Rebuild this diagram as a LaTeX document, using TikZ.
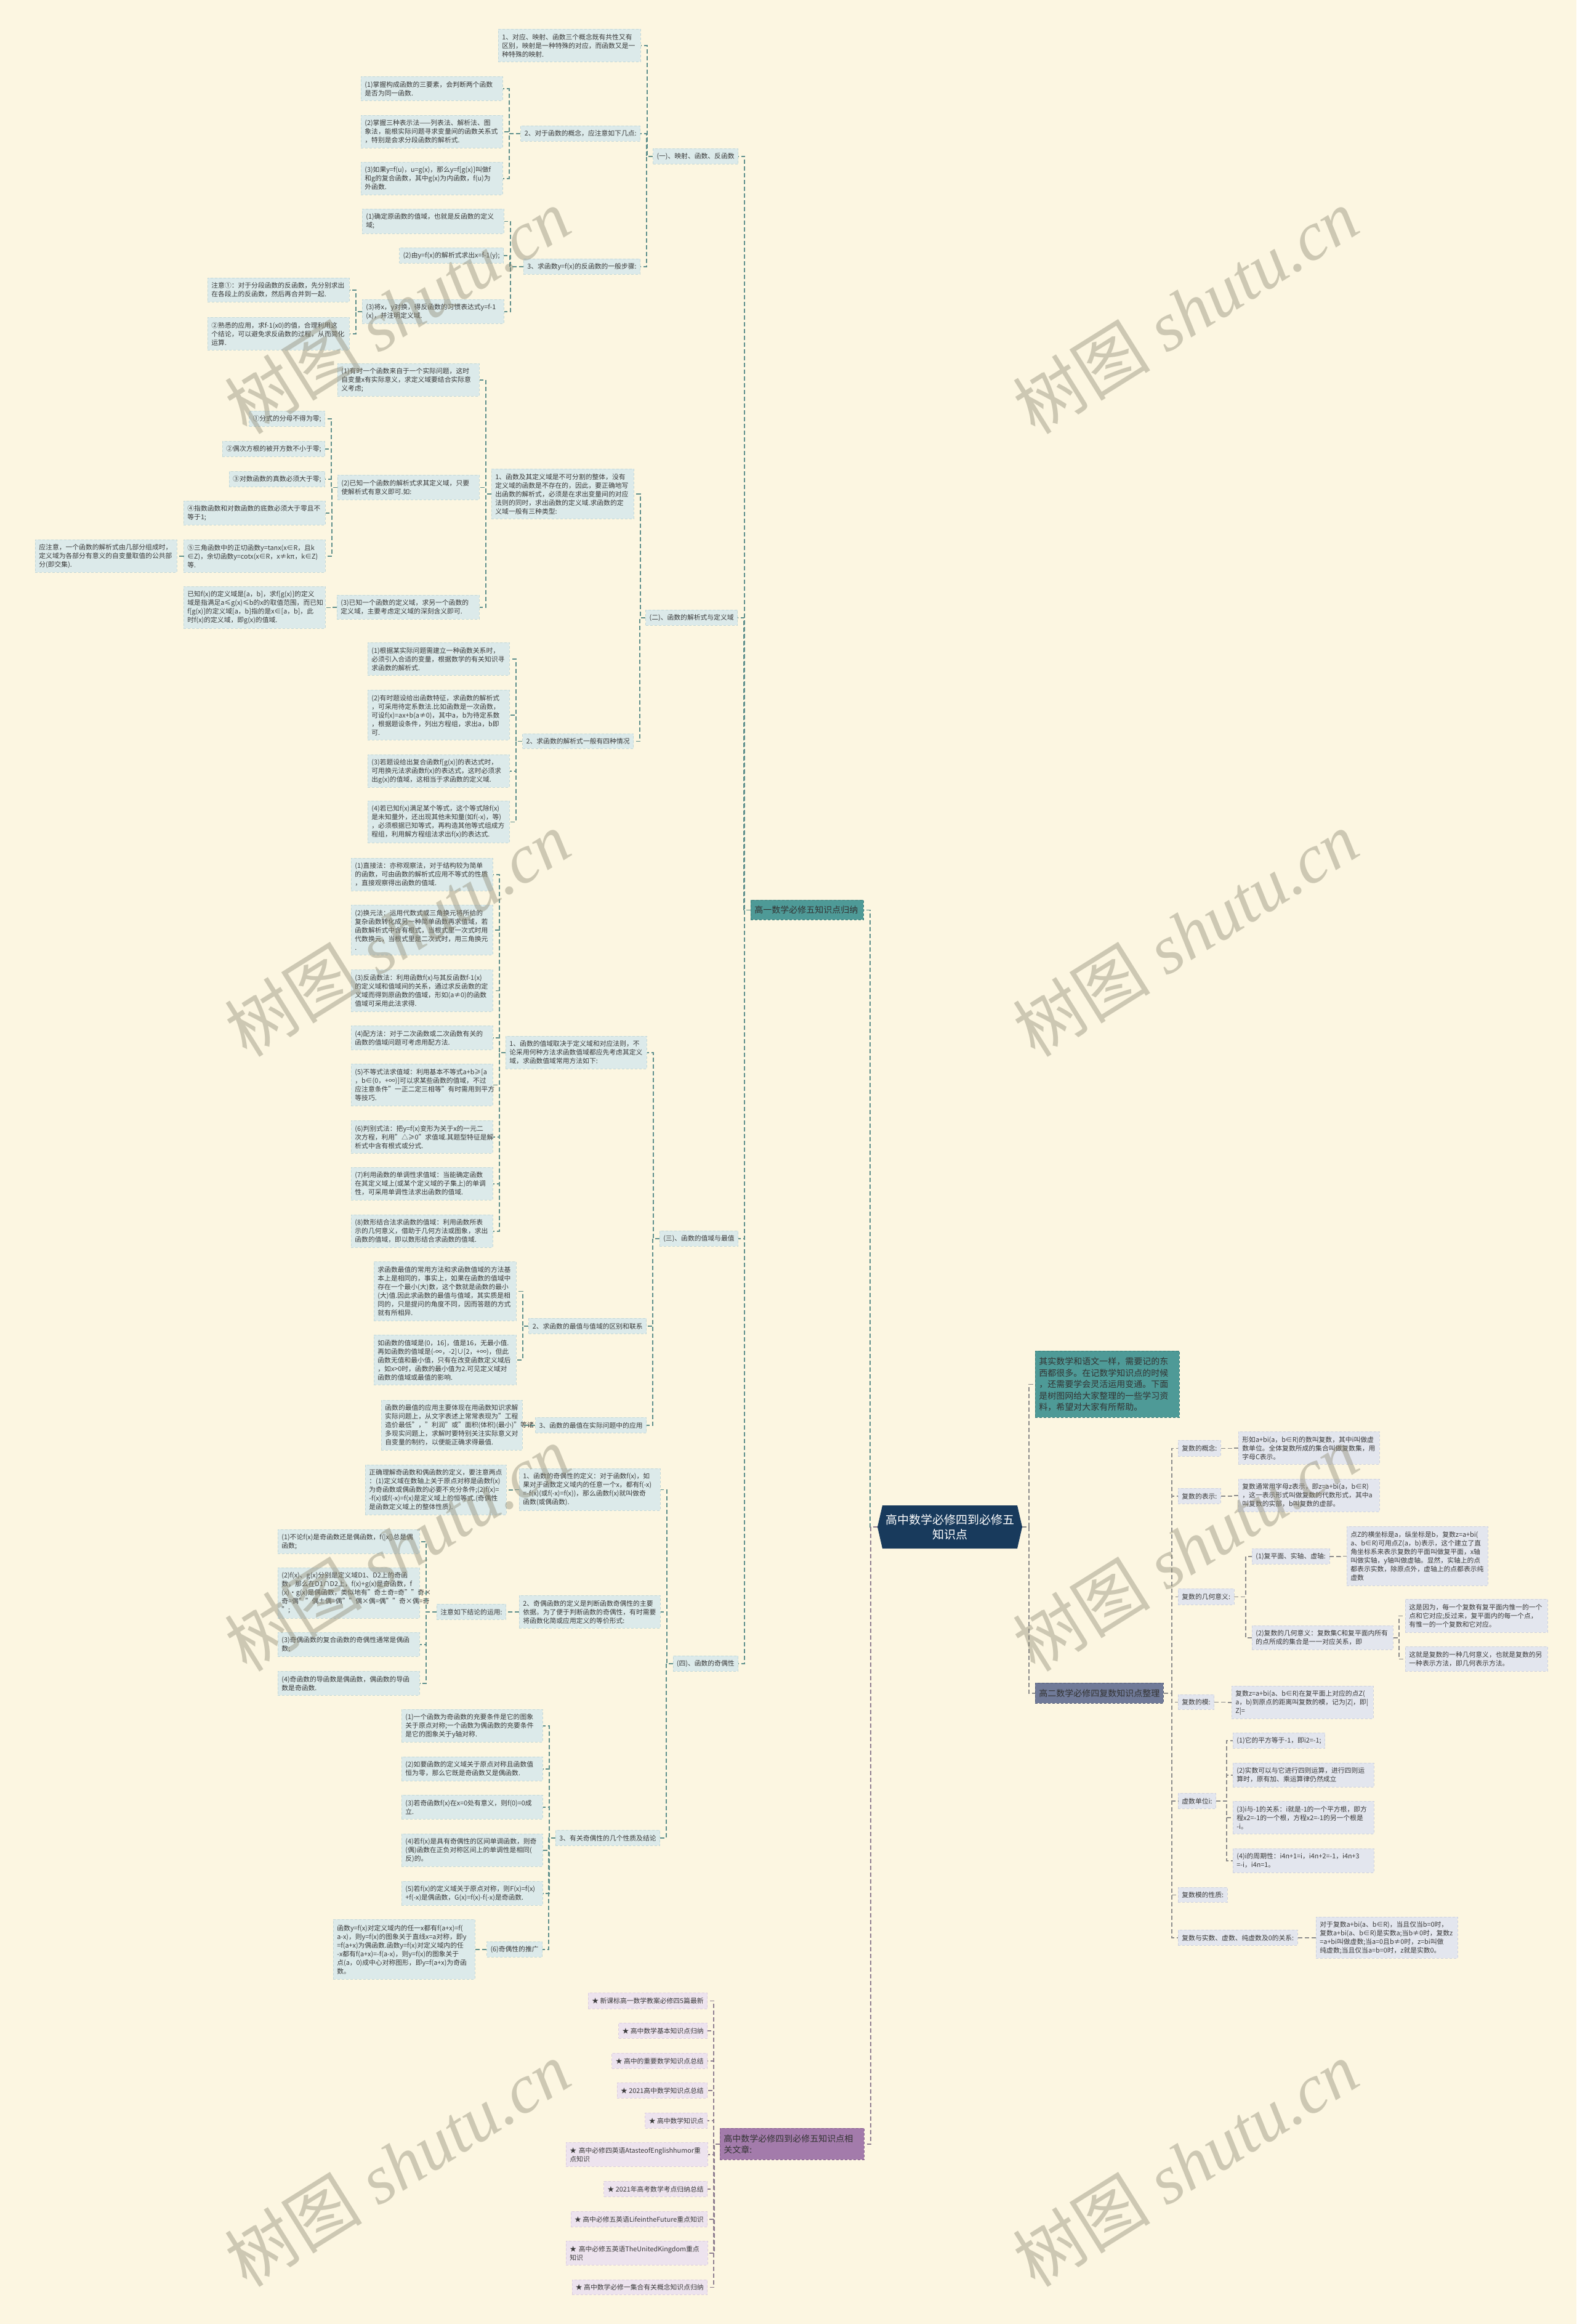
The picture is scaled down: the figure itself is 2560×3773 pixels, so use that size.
\documentclass[tikz,border=0pt]{standalone}
\usepackage{fontspec}
\setmainfont{Noto Sans CJK SC}
\newfontfamily\wmfont{Liberation Serif}
\definecolor{bgc}{HTML}{FCF6E1}
\definecolor{lfB}{HTML}{DCEAEA}
\definecolor{lfBd}{HTML}{C2D8D8}
\definecolor{lfG}{HTML}{E3E6EE}
\definecolor{lfGd}{HTML}{CDD1DD}
\definecolor{lfP}{HTML}{EDE3EE}
\definecolor{lfPd}{HTML}{DCCDDE}
\definecolor{tealA}{HTML}{4E9A97}
\definecolor{tealD}{HTML}{3C7C79}
\definecolor{slateA}{HTML}{707A98}
\definecolor{slateD}{HTML}{565F7A}
\definecolor{purpA}{HTML}{A37BAB}
\definecolor{purpD}{HTML}{86608E}
\definecolor{navyA}{HTML}{183A5C}
\definecolor{lnT}{HTML}{5E8F8C}
\definecolor{lnG}{HTML}{8C8C8C}
\definecolor{lnP}{HTML}{8E7E90}
\definecolor{txt}{HTML}{3A3A3A}
\definecolor{wmc}{HTML}{8E8A74}
\tikzset{
  base/.style={inner xsep=6pt, inner ysep=0pt, align=left, font=\fontsize{10.8pt}{14pt}\selectfont, text=txt, dash pattern=on 4pt off 3pt, line width=0.8pt},
  lb/.style={base, fill=lfB, draw=lfBd},
  lg/.style={base, fill=lfG, draw=lfGd},
  lp/.style={base, fill=lfP, draw=lfPd},
  tb/.style={base, fill=tealA, draw=tealD, text=black!80, font=\fontsize{14pt}{18.6pt}\selectfont},
  sb/.style={base, fill=slateA, draw=slateD, text=black!80, font=\fontsize{14pt}{18.6pt}\selectfont},
  pb/.style={base, fill=purpA, draw=purpD, text=black!80, font=\fontsize{14pt}{18.3pt}\selectfont},
  cT/.style={draw=lnT, line width=1.4pt, dash pattern=on 7pt off 4pt},
  cG/.style={draw=lnG, line width=1.4pt, dash pattern=on 7pt off 4pt},
  cP/.style={draw=lnP, line width=1.4pt, dash pattern=on 7pt off 4pt},
  wm/.style={text=wmc, opacity=0.42, rotate=32, inner sep=0pt, font=\fontsize{112pt}{112pt}\selectfont}
}
\newcommand\NdM[7]{\node[#1,text width=#5pt,minimum height=#6pt,anchor=north west] (#2) at (#3,#4) {#7};}
\newcommand\NdL[6]{\node[#1,minimum height=#5pt,anchor=north east] (#2) at (#3,#4) {#6};}
\newcommand\NdR[6]{\node[#1,minimum height=#5pt,anchor=north west] (#2) at (#3,#4) {#6};}
\newcommand\CnL[3]{\draw[#1] (#2.west) -| ([xshift=10pt]#3.east) -- (#3.east);}
\newcommand\CnR[3]{\draw[#1] (#2.east) -| ([xshift=-10pt]#3.west) -- (#3.west);}
\begin{document}
\begin{tikzpicture}[x=1pt,y=-1pt]
\fill[bgc] (0,0) rectangle (2560,3773);
\useasboundingbox (0,0) rectangle (2560,3773);

% ---------- root ----------
\fill[navyA] (1425,2479) -- (1433,2444) -- (1652,2444) -- (1660,2479) -- (1652,2514) -- (1433,2514) -- cycle;
\node[minimum width=235pt, minimum height=70pt, inner sep=0pt, align=center, text=white, font=\fontsize{19pt}{24pt}\selectfont] (root) at (1542.5,2479) {高中数学必修四到必修五\\知识点};

% ---------- left main branch ----------
\NdM{tb}{g1}{1219}{1461}{171}{32}{高一数学必修五知识点归纳}

\NdL{lb}{n1}{1199}{241}{25}{(一)、映射、函数、反函数}
\NdM{lb}{a1}{809}{47}{219}{53}{1、对应、映射、函数三个概念既有共性又有\\区别，映射是一种特殊的对应，而函数又是一\\种特殊的映射.}
\NdL{lb}{a2}{1040}{204}{25}{2、对于函数的概念，应注意如下几点:}
\NdM{lb}{a21}{586}{124}{218}{39}{(1)掌握构成函数的三要素，会判断两个函数\\是否为同一函数.}
\NdM{lb}{a22}{586}{187}{218}{53}{(2)掌握三种表示法——列表法、解析法、图\\象法，能根实际问题寻求变量间的函数关系式\\，特别是会求分段函数的解析式.}
\NdM{lb}{a23}{586}{263}{218}{53}{(3)如果y=f(u)，u=g(x)，那么y=f[g(x)]叫做f\\和g的复合函数，其中g(x)为内函数，f(u)为\\外函数.}
\NdL{lb}{a3}{1040}{420}{25}{3、求函数y=f(x)的反函数的一般步骤:}
\NdM{lb}{a31}{588}{339}{218}{40}{(1)确定原函数的值域，也就是反函数的定义\\域;}
\NdL{lb}{a32}{818}{402}{25}{(2)由y=f(x)的解析式求出x=f-1(y);}
\NdM{lb}{a33}{588}{486}{218}{39}{(3)将x，y对换，得反函数的习惯表达式y=f-1\\(x)，并注明定义域.}
\NdM{lb}{a331}{337}{451}{218}{39}{注意①：对于分段函数的反函数，先分别求出\\在各段上的反函数，然后再合并到一起.}
\NdM{lb}{a332}{337}{515}{218}{53}{②熟悉的应用，求f-1(x0)的值，合理利用这\\个结论，可以避免求反函数的过程，从而简化\\运算.}

\NdL{lb}{n2}{1198}{990}{25}{(二)、函数的解析式与定义域}
\NdM{lb}{b1}{798}{761}{219}{81}{1、函数及其定义域是不可分割的整体，没有\\定义域的函数是不存在的，因此，要正确地写\\出函数的解析式，必须是在求出变量间的对应\\法则的同时，求出函数的定义域.求函数的定\\义域一般有三种类型:}
\NdM{lb}{b11}{548}{590}{218}{53}{(1)有时一个函数来自于一个实际问题，这时\\自变量x有实际意义，求定义域要结合实际意\\义考虑;}
\NdM{lb}{b12}{548}{771}{218}{40}{(2)已知一个函数的解析式求其定义域，只要\\使解析式有意义即可.如:}
\NdL{lb}{b121}{528}{667}{25}{①分式的分母不得为零;}
\NdL{lb}{b122}{528}{716}{25}{②偶次方根的被开方数不小于零;}
\NdL{lb}{b123}{528}{765}{25}{③对数函数的真数必须大于零;}
\NdM{lb}{b124}{298}{813}{218}{39}{④指数函数和对数函数的底数必须大于零且不\\等于1;}
\NdM{lb}{b125}{298}{876}{218}{53}{⑤三角函数中的正切函数y=tanx(x∈R，且k\\∈Z)，余切函数y=cotx(x∈R，x≠kπ，k∈Z)\\等.}
\NdM{lb}{b1251}{57}{876}{218}{53}{应注意，一个函数的解析式由几部分组成时，\\定义域为各部分有意义的自变量取值的公共部\\分(即交集).}
\NdM{lb}{b13}{547}{966}{219}{39}{(3)已知一个函数的定义域，求另一个函数的\\定义域，主要考虑定义域的深刻含义即可.}
\NdM{lb}{b131}{298}{952}{218}{68}{已知f(x)的定义域是[a，b]，求f[g(x)]的定义\\域是指满足a≤g(x)≤b的x的取值范围，而已知\\f[g(x)]的定义域[a，b]指的是x∈[a，b]，此\\时f(x)的定义域，即g(x)的值域.}
\NdL{lb}{b2}{1029}{1191}{24}{2、求函数的解析式一般有四种情况}
\NdM{lb}{b21}{597}{1043}{218}{53}{(1)根据某实际问题需建立一种函数关系时，\\必须引入合适的变量，根据数学的有关知识寻\\求函数的解析式.}
\NdM{lb}{b22}{597}{1120}{218}{81}{(2)有时题设给出函数特征，求函数的解析式\\，可采用待定系数法.比如函数是一次函数，\\可设f(x)=ax+b(a≠0)，其中a，b为待定系数\\，根据题设条件，列出方程组，求出a，b即\\可.}
\NdM{lb}{b23}{597}{1225}{218}{53}{(3)若题设给出复合函数f[g(x)]的表达式时，\\可用换元法求函数f(x)的表达式，这时必须求\\出g(x)的值域，这相当于求函数的定义域.}
\NdM{lb}{b24}{597}{1300}{218}{68}{(4)若已知f(x)满足某个等式，这个等式除f(x)\\是未知量外，还出现其他未知量(如f(-x)，等)\\，必须根据已知等式，再构造其他等式组成方\\程组，利用解方程组法求出f(x)的表达式.}

\NdL{lb}{n3}{1199}{1998}{25}{(三)、函数的值域与最值}
\NdM{lb}{c1}{821}{1682}{217}{53}{1、函数的值域取决于定义域和对应法则，不\\论采用何种方法求函数值域都应先考虑其定义\\域，求函数值域常用方法如下:}
\NdM{lb}{c11}{570}{1393}{218}{53}{(1)直接法：亦称观察法，对于结构较为简单\\的函数，可由函数的解析式应用不等式的性质\\，直接观察得出函数的值域.}
\NdM{lb}{c12}{570}{1469}{218}{81}{(2)换元法：运用代数式或三角换元将所给的\\复杂函数转化成另一种简单函数再求值域，若\\函数解析式中含有根式，当根式里一次式时用\\代数换元，当根式里是二次式时，用三角换元\\.}
\NdM{lb}{c13}{570}{1574}{218}{68}{(3)反函数法：利用函数f(x)与其反函数f-1(x)\\的定义域和值域间的关系，通过求反函数的定\\义域而得到原函数的值域，形如(a≠0)的函数\\值域可采用此法求得.}
\NdM{lb}{c14}{570}{1665}{218}{39}{(4)配方法：对于二次函数或二次函数有关的\\函数的值域问题可考虑用配方法.}
\NdM{lb}{c15}{570}{1727}{218}{68}{(5)不等式法求值域：利用基本不等式a+b≥[a\\，b∈(0，+∞)]可以求某些函数的值域，不过\\应注意条件"一正二定三相等"有时需用到平方\\等技巧.}
\NdM{lb}{c16}{570}{1819}{218}{53}{(6)判别式法：把y=f(x)变形为关于x的一元二\\次方程，利用"△≥0"求值域.其题型特征是解\\析式中含有根式或分式.}
\NdM{lb}{c17}{570}{1895}{218}{53}{(7)利用函数的单调性求值域：当能确定函数\\在其定义域上(或某个定义域的子集上)的单调\\性，可采用单调性法求出函数的值域.}
\NdM{lb}{c18}{570}{1972}{218}{53}{(8)数形结合法求函数的值域：利用函数所表\\示的几何意义，借助于几何方法或图象，求出\\函数的值域，即以数形结合求函数的值域.}
\NdL{lb}{c2}{1050}{2140}{25}{2、求函数的最值与值域的区别和联系}
\NdM{lb}{c21}{607}{2048}{219}{96}{求函数最值的常用方法和求函数值域的方法基\\本上是相同的，事实上，如果在函数的值域中\\存在一个最小(大)数，这个数就是函数的最小\\(大)值.因此求函数的最值与值域，其实质是相\\同的，只是提问的角度不同，因而答题的方式\\就有所相异.}
\NdM{lb}{c22}{607}{2167}{219}{81}{如函数的值域是(0，16]，值是16，无最小值.\\再如函数的值域是(-∞，-2]∪[2，+∞)，但此\\函数无值和最小值，只有在改变函数定义域后\\，如x>0时，函数的最小值为2.可见定义域对\\函数的值域或最值的影响.}
\NdL{lb}{c3}{1050}{2301}{25}{3、函数的最值在实际问题中的应用}
\NdM{lb}{c31}{619}{2273}{217}{81}{函数的最值的应用主要体现在用函数知识求解\\实际问题上，从文字表述上常常表现为"工程\\造价最低"，"利润"或"面积(体积)(最小)"等诸\\多现实问题上，求解时要特别关注实际意义对\\自变量的制约，以便能正确求得最值.}

\NdL{lb}{n4}{1199}{2688}{25}{(四)、函数的奇偶性}
\NdM{lb}{d1}{843}{2384}{217}{68}{1、函数的奇偶性的定义：对于函数f(x)，如\\果对于函数定义域内的任意一个x，都有f(-x)\\=-f(x)(或f(-x)=f(x))，那么函数f(x)就叫做奇\\函数(或偶函数).}
\NdM{lb}{d11}{593}{2378}{217}{81}{正确理解奇函数和偶函数的定义，要注意两点\\：(1)定义域在数轴上关于原点对称是函数f(x)\\为奇函数或偶函数的必要不充分条件;(2)f(x)=\\-f(x)或f(-x)=f(x)是定义域上的恒等式.(奇偶性\\是函数定义域上的整体性质).}
\NdM{lb}{d2}{843}{2590}{217}{53}{2、奇偶函数的定义是判断函数奇偶性的主要\\依据。为了便于判断函数的奇偶性，有时需要\\将函数化简或应用定义的等价形式:}
\NdL{lb}{d21}{822}{2604}{25}{注意如下结论的运用:}
\NdM{lb}{d211}{451}{2483}{218}{39}{(1)不论f(x)是奇函数还是偶函数，f(|x|)总是偶\\函数;}
\NdM{lb}{d212}{451}{2545}{218}{82}{(2)f(x)、g(x)分别是定义域D1、D2上的奇函\\数，那么在D1∩D2上，f(x)+g(x)是奇函数，f\\(x)·g(x)是偶函数，类似地有"奇±奇=奇""奇×\\奇=偶""偶±偶=偶""偶×偶=偶""奇×偶=奇\\";}
\NdM{lb}{d213}{451}{2650}{218}{39}{(3)奇偶函数的复合函数的奇偶性通常是偶函\\数;}
\NdM{lb}{d214}{451}{2713}{218}{39}{(4)奇函数的导函数是偶函数，偶函数的导函\\数是奇函数.}
\NdL{lb}{d3}{1072}{2971}{25}{3、有关奇偶性的几个性质及结论}
\NdM{lb}{d31}{652}{2775}{217}{53}{(1)一个函数为奇函数的充要条件是它的图象\\关于原点对称;一个函数为偶函数的充要条件\\是它的图象关于y轴对称.}
\NdM{lb}{d32}{652}{2852}{217}{39}{(2)如要函数的定义域关于原点对称且函数值\\恒为零，那么它既是奇函数又是偶函数.}
\NdM{lb}{d33}{652}{2914}{217}{39}{(3)若奇函数f(x)在x=0处有意义，则f(0)=0成\\立.}
\NdM{lb}{d34}{652}{2977}{217}{53}{(4)若f(x)是具有奇偶性的区间单调函数，则奇\\(偶)函数在正负对称区间上的单调性是相同(\\反)的。}
\NdM{lb}{d35}{652}{3054}{217}{39}{(5)若f(x)的定义域关于原点对称，则F(x)=f(x)\\+f(-x)是偶函数，G(x)=f(x)-f(-x)是奇函数.}
\NdL{lb}{d36}{881}{3152}{25}{(6)奇偶性的推广}
\NdM{lb}{d361}{541}{3116}{218}{97}{函数y=f(x)对定义域内的任一x都有f(a+x)=f(\\a-x)，则y=f(x)的图象关于直线x=a对称，即y\\=f(a+x)为偶函数.函数y=f(x)对定义域内的任\\-x都有f(a+x)=-f(a-x)，则y=f(x)的图象关于\\点(a，0)成中心对称图形，即y=f(a+x)为奇函\\数。}

% ---------- right branch ----------
\NdM{tb}{intro}{1681}{2193}{222}{108}{其实数学和语文一样，需要记的东\\西都很多。在记数学知识点的时候\\，还需要学会灵活运用变通。下面\\是树图网给大家整理的一些学习资\\料，希望对大家有所帮助。}
\NdR{sb}{g2}{1681}{2732}{33}{高二数学必修四复数知识点整理}
\NdR{lg}{r1}{1913}{2338}{26}{复数的概念:}
\NdM{lg}{r11}{2011}{2324}{217}{53}{形如a+bi(a，b∈R)的数叫复数，其中i叫做虚\\数单位。全体复数所成的集合叫做复数集，用\\字母C表示。}
\NdR{lg}{r2}{1913}{2416}{25}{复数的表示:}
\NdM{lg}{r21}{2011}{2401}{217}{53}{复数通常用字母z表示，即z=a+bi(a，b∈R)\\，这一表示形式叫做复数的代数形式，其中a\\叫复数的实部，b叫复数的虚部。}
\NdR{lg}{r3}{1913}{2579}{26}{复数的几何意义:}
\NdR{lg}{r31}{2033}{2514}{25}{(1)复平面、实轴、虚轴:}
\NdM{lg}{r311}{2187}{2478}{217}{96}{点Z的横坐标是a，纵坐标是b，复数z=a+bi(\\a、b∈R)可用点Z(a，b)表示，这个建立了直\\角坐标系来表示复数的平面叫做复平面，x轴\\叫做实轴，y轴叫做虚轴。显然，实轴上的点\\都表示实数，除原点外，虚轴上的点都表示纯\\虚数}
\NdM{lg}{r32}{2033}{2639}{217}{39}{(2)复数的几何意义：复数集C和复平面内所有\\的点所成的集合是一一对应关系，即}
\NdM{lg}{r321}{2282}{2596}{219}{54}{这是因为，每一个复数有复平面内惟一的一个\\点和它对应;反过来，复平面内的每一个点，\\有惟一的一个复数和它对应。}
\NdM{lg}{r322}{2282}{2673}{219}{40}{这就是复数的一种几何意义，也就是复数的另\\一种表示方法，即几何表示方法。}
\NdR{lg}{r4}{1913}{2751}{24}{复数的模:}
\NdM{lg}{r41}{2000}{2737}{218}{53}{复数z=a+bi(a、b∈R)在复平面上对应的点Z(\\a，b)到原点的距离叫复数的模，记为|Z|，即|\\Z|=}
\NdR{lg}{r5}{1913}{2911}{25}{虚数单位i:}
\NdR{lg}{r51}{2002}{2813}{25}{(1)它的平方等于-1，即i2=-1;}
\NdM{lg}{r52}{2002}{2862}{217}{39}{(2)实数可以与它进行四则运算，进行四则运\\算时，原有加、乘运算律仍然成立}
\NdM{lg}{r53}{2002}{2924}{217}{53}{(3)i与-1的关系：i就是-1的一个平方根，即方\\程x2=-1的一个根，方程x2=-1的另一个根是\\-i。}
\NdM{lg}{r54}{2002}{3001}{217}{39}{(4)i的周期性：i4n+1=i，i4n+2=-1，i4n+3\\=-i，i4n=1。}
\NdR{lg}{r6}{1913}{3064}{24}{复数模的性质:}
\NdR{lg}{r7}{1913}{3133}{25}{复数与实数、虚数、纯虚数及0的关系:}
\NdM{lg}{r71}{2137}{3112}{218}{67}{对于复数a+bi(a、b∈R)，当且仅当b=0时，\\复数a+bi(a、b∈R)是实数a;当b≠0时，复数z\\=a+bi叫做虚数;当a=0且b≠0时，z=bi叫做\\纯虚数;当且仅当a=b=0时，z就是实数0。}

% ---------- bottom branch ----------
\NdM{pb}{rel}{1169}{3455}{222}{51}{高中数学必修四到必修五知识点相\\关文章:}
\NdL{lp}{p1}{1149}{3235}{26}{★ 新课标高一数学教案必修四5篇最新}
\NdL{lp}{p2}{1149}{3284}{25}{★ 高中数学基本知识点归纳}
\NdL{lp}{p3}{1149}{3333}{25}{★ 高中的重要数学知识点总结}
\NdL{lp}{p4}{1149}{3381}{25}{★ 2021高中数学知识点总结}
\NdL{lp}{p5}{1149}{3430}{25}{★ 高中数学知识点}
\NdM{lp}{p6}{919}{3478}{218}{39}{★ 高中必修四英语AtasteofEnglishhumor重\\点知识}
\NdL{lp}{p7}{1149}{3541}{25}{★ 2021年高考数学考点归纳总结}
\NdL{lp}{p8}{1149}{3590}{25}{★ 高中必修五英语LifeintheFuture重点知识}
\NdM{lp}{p9}{919}{3638}{218}{39}{★ 高中必修五英语TheUnitedKingdom重点\\知识}
\NdL{lp}{p10}{1149}{3701}{24}{★ 高中数学必修一集合有关概念知识点归纳}

% ---------- connectors ----------
\CnL{cT}{root}{g1}
\CnL{cP}{root}{rel}
\CnR{cG}{root}{intro}
\CnR{cG}{root}{g2}
\foreach \c in {n1,n2,n3,n4} {\CnL{cT}{g1}{\c}}
\foreach \c in {a1,a2,a3} {\CnL{cT}{n1}{\c}}
\foreach \c in {a21,a22,a23} {\CnL{cT}{a2}{\c}}
\foreach \c in {a31,a32,a33} {\CnL{cT}{a3}{\c}}
\foreach \c in {a331,a332} {\CnL{cT}{a33}{\c}}
\foreach \c in {b1,b2} {\CnL{cT}{n2}{\c}}
\foreach \c in {b11,b12,b13} {\CnL{cT}{b1}{\c}}
\foreach \c in {b121,b122,b123,b124,b125} {\CnL{cT}{b12}{\c}}
\CnL{cT}{b125}{b1251}
\CnL{cT}{b13}{b131}
\foreach \c in {b21,b22,b23,b24} {\CnL{cT}{b2}{\c}}
\foreach \c in {c1,c2,c3} {\CnL{cT}{n3}{\c}}
\foreach \c in {c11,c12,c13,c14,c15,c16,c17,c18} {\CnL{cT}{c1}{\c}}
\foreach \c in {c21,c22} {\CnL{cT}{c2}{\c}}
\CnL{cT}{c3}{c31}
\foreach \c in {d1,d2,d3} {\CnL{cT}{n4}{\c}}
\CnL{cT}{d1}{d11}
\CnL{cT}{d2}{d21}
\foreach \c in {d211,d212,d213,d214} {\CnL{cT}{d21}{\c}}
\foreach \c in {d31,d32,d33,d34,d35,d36} {\CnL{cT}{d3}{\c}}
\CnL{cT}{d36}{d361}
\foreach \c in {r1,r2,r3,r4,r5,r6,r7} {\CnR{cG}{g2}{\c}}
\CnR{cG}{r1}{r11}
\CnR{cG}{r2}{r21}
\foreach \c in {r31,r32} {\CnR{cG}{r3}{\c}}
\CnR{cG}{r31}{r311}
\foreach \c in {r321,r322} {\CnR{cG}{r32}{\c}}
\CnR{cG}{r4}{r41}
\foreach \c in {r51,r52,r53,r54} {\CnR{cG}{r5}{\c}}
\CnR{cG}{r7}{r71}
\foreach \c in {p1,p2,p3,p4,p5,p6,p7,p8,p9,p10} {\CnL{cP}{rel}{\c}}

% ---------- watermarks ----------
\node[wm] (wm1) at (645,505) {树图\hspace{0.25em}{\wmfont\itshape shutu.cn}};
\node[wm] (wm2) at (1925,505) {树图\hspace{0.25em}{\wmfont\itshape shutu.cn}};
\node[wm] (wm3) at (645,1516) {树图\hspace{0.25em}{\wmfont\itshape shutu.cn}};
\node[wm] (wm4) at (1925,1516) {树图\hspace{0.25em}{\wmfont\itshape shutu.cn}};
\node[wm] (wm5) at (645,2514) {树图\hspace{0.25em}{\wmfont\itshape shutu.cn}};
\node[wm] (wm6) at (1925,2514) {树图\hspace{0.25em}{\wmfont\itshape shutu.cn}};
\node[wm] (wm7) at (645,3513) {树图\hspace{0.25em}{\wmfont\itshape shutu.cn}};
\node[wm] (wm8) at (1925,3513) {树图\hspace{0.25em}{\wmfont\itshape shutu.cn}};
\end{tikzpicture}
\end{document}
